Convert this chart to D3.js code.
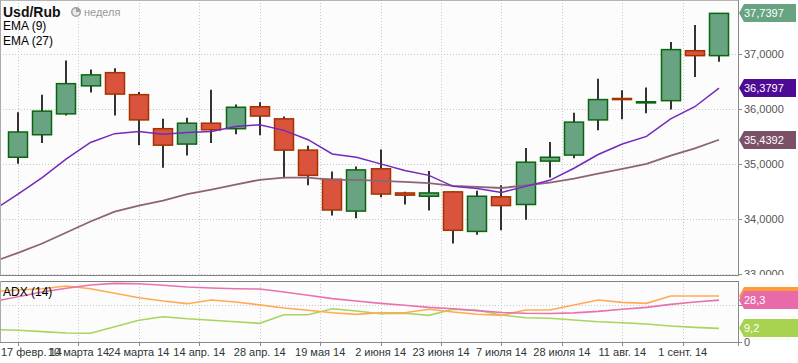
<!DOCTYPE html>
<html>
<head>
<meta charset="utf-8">
<script src="https://cdn.jsdelivr.net/npm/d3@7"></script>
<style>
body { margin: 0; background: #fff; }
svg { display: block; font-family: "Liberation Sans", Arial, sans-serif; }
</style>
</head>
<body>
<svg id="chart" width="798" height="363"></svg>
<script>
// weekly candles Usd/Rub, 17 Feb .. 8 Sep 2014
var weeks = ["17.02","24.02","03.03","10.03","17.03","24.03","31.03","07.04","14.04","21.04",
             "28.04","05.05","12.05","19.05","26.05","02.06","09.06","16.06","23.06","30.06",
             "07.07","14.07","21.07","28.07","04.08","11.08","18.08","25.08","01.09","08.09"];
var open  = [35.12,35.53,35.91,36.42,36.66,36.26,35.64,35.36,35.74,35.64,
             36.04,35.82,35.25,34.72,34.14,34.91,34.47,34.41,34.49,33.77,
             34.40,34.26,35.05,35.16,35.80,36.19,36.11,36.15,37.06,36.97];
var high  = [35.94,36.26,36.88,36.72,36.74,36.31,35.82,35.84,36.35,36.08,
             36.12,35.86,35.33,34.86,34.95,35.26,34.49,34.87,34.50,34.51,
             34.61,35.29,35.40,35.93,36.55,36.34,36.39,37.22,37.53,37.74];
var low   = [35.00,35.38,35.88,36.30,35.88,35.34,34.93,35.15,35.38,35.54,
             35.52,34.74,34.61,34.06,34.01,34.39,34.26,34.15,33.55,33.71,
             33.79,33.98,34.75,35.10,35.61,35.81,35.92,35.99,36.58,36.86];
var close = [35.58,35.96,36.46,36.62,36.27,35.80,35.34,35.74,35.62,36.03,
             35.87,35.25,34.79,34.16,34.89,34.45,34.43,34.47,33.79,34.41,
             34.24,35.03,35.12,35.76,36.17,36.17,36.13,37.08,36.97,37.7397];

// indicator lines, first value = the week before (runs off the left edge)
var ema9  = [34.16,34.45,34.75,35.09,35.39,35.55,35.59,35.54,35.57,35.59,35.68,
             35.71,35.61,35.44,35.18,35.12,35.00,34.88,34.79,34.59,34.55,
             34.48,34.59,34.70,34.92,35.17,35.36,35.50,35.82,36.04,36.3797];
var ema27 = [33.22,33.38,33.55,33.75,33.95,34.13,34.24,34.33,34.45,34.53,34.62,
             34.71,34.75,34.75,34.71,34.71,34.69,34.67,34.65,34.60,34.58,
             34.56,34.61,34.66,34.73,34.82,34.91,35.00,35.15,35.28,35.4392];
var adx     = [27.4,30.6,33.8,36.3,38.5,39.6,39.4,38.3,37.2,36.5,36.0,
               35.8,33.8,31.6,29.3,27.7,26.1,24.8,23.4,22.5,21.2,
               19.9,19.4,19.3,19.7,20.7,22.1,23.4,25.4,27.0,28.3];
var diPlus  = [34.3,35.1,36.0,37.8,36.0,32.9,29.9,27.7,25.9,28.4,27.0,
               25.1,23.0,21.4,19.8,18.7,19.8,19.8,22.1,20.3,18.7,
               18.0,21.6,21.6,25.0,28.4,26.8,26.1,31.1,31.1,31.1];
var diMinus = [8.4,7.9,7.0,6.1,5.9,10.3,14.7,17.1,15.7,14.7,13.7,
               12.6,18.4,18.4,22.5,20.9,19.1,19.4,18.0,22.1,21.4,
               18.2,16.4,16.0,14.9,13.7,13.0,12.2,10.8,9.9,9.2];

// date axis: one tick every 2.5 candles
var tickIdx = [0,2.5,5,7.5,10,12.5,15,17.5,20,22.5,25,27.5];
var tickLabels = ["17 февр. 14","10 марта 14","24 марта 14","14 апр. 14","28 апр. 14","19 мая 14",
                  "2 июня 14","23 июня 14","7 июля 14","28 июля 14","11 авг. 14","1 сент. 14"];
var priceTicks = [33,34,35,36,37];
var adxTicks = [0,25];

var svg = d3.select("#chart"),
    axisX = 738,
    mainTop = 0, mainBottom = 275,
    indTop = 281, indBottom = 342;

var x = d3.scaleLinear().domain([0, 29]).range([18, 719]),
    y = d3.scaleLinear().domain([33, 37]).range([273.7, 54]),
    yi = d3.scaleLinear().domain([0, 25]).range([342, 305]);

var fmt = function(v, d) { return v.toFixed(d).replace(".", ","); };
var px = function(v) { return Math.round(v) + 0.5; };

var defs = svg.append("defs");
defs.append("clipPath").attr("id", "clipMain")
    .append("rect").attr("x", 0).attr("y", mainTop).attr("width", axisX).attr("height", mainBottom - mainTop);
defs.append("clipPath").attr("id", "clipInd")
    .append("rect").attr("x", 0).attr("y", indTop).attr("width", axisX).attr("height", indBottom - indTop);
defs.append("clipPath").attr("id", "clipMainAxis")
    .append("rect").attr("x", axisX).attr("y", 0).attr("width", 60).attr("height", mainBottom);

// panel backgrounds
svg.append("rect").attr("x", 0).attr("y", mainTop).attr("width", axisX).attr("height", mainBottom - mainTop).attr("fill", "#fcfcfc");
svg.append("rect").attr("x", 0).attr("y", indTop).attr("width", axisX).attr("height", indBottom - indTop).attr("fill", "#fcfcfc");

// grid
var grid = svg.append("g")
    .attr("stroke", "#c9c9c9")
    .attr("stroke-dasharray", "1,2")
    .attr("fill", "none");

grid.selectAll("line.vm").data(tickIdx).enter().append("line")
    .attr("x1", (d) => px(x(d))).attr("x2", (d) => px(x(d)))
    .attr("y1", mainTop).attr("y2", mainBottom);
grid.selectAll("line.vi").data(tickIdx).enter().append("line")
    .attr("x1", (d) => px(x(d))).attr("x2", (d) => px(x(d)))
    .attr("y1", indTop).attr("y2", indBottom);
grid.selectAll("line.hm").data(priceTicks).enter().append("line")
    .attr("x1", 0).attr("x2", axisX)
    .attr("y1", (d) => px(y(d))).attr("y2", (d) => px(y(d)));
grid.selectAll("line.hi").data([25]).enter().append("line")
    .attr("x1", 0).attr("x2", axisX)
    .attr("y1", (d) => px(yi(d))).attr("y2", (d) => px(yi(d)));

// candles
var candles = d3.range(weeks.length).map((i) => ({
    i: i, o: open[i], h: high[i], l: low[i], c: close[i], up: close[i] >= open[i]
}));
var bodyW = 19;
var plot = svg.append("g").attr("clip-path", "url(#clipMain)");

plot.append("g")
    .selectAll("line")
    .data(candles)
    .enter()
    .append("line")
    .attr("x1", (d) => Math.round(x(d.i)))
    .attr("x2", (d) => Math.round(x(d.i)))
    .attr("y1", (d) => y(d.h))
    .attr("y2", (d) => y(d.l))
    .attr("stroke", "#000")
    .attr("stroke-width", 1.6);

plot.append("g")
    .selectAll("rect")
    .data(candles)
    .enter()
    .append("rect")
    .attr("x", (d) => Math.round(x(d.i)) - bodyW / 2)
    .attr("width", bodyW)
    .attr("y", (d) => y(Math.max(d.o, d.c)))
    .attr("height", (d) => Math.max(1, Math.abs(y(d.o) - y(d.c))))
    .attr("fill", (d) => d.up ? "#68a482" : "#d9533d")
    .attr("stroke", (d) => d.up ? "#0b650f" : "#a33300")
    .attr("stroke-width", 1.5);

// EMA lines
var line = d3.line().x((d, i) => x(i - 1));
plot.append("path")
    .attr("d", line.y((d) => y(d))(ema27))
    .attr("fill", "none").attr("stroke", "#8c6479").attr("stroke-width", 1.8);
plot.append("path")
    .attr("d", line.y((d) => y(d))(ema9))
    .attr("fill", "none").attr("stroke", "#7429b8").attr("stroke-width", 1.5);

// ADX panel
var ind = svg.append("g").attr("clip-path", "url(#clipInd)");
[[diMinus, "#a9d45e"], [diPlus, "#ffaa55"], [adx, "#e872ad"]].forEach(function(s) {
    ind.append("path")
        .attr("d", line.y((d) => yi(d))(s[0]))
        .attr("fill", "none").attr("stroke", s[1]).attr("stroke-width", 1.6);
});

// frames
var frame = svg.append("g").attr("fill", "none");
frame.append("line").attr("x1", 0).attr("x2", axisX).attr("y1", 0.5).attr("y2", 0.5).attr("stroke", "#b4b4b4");
frame.append("line").attr("x1", 0.5).attr("x2", 0.5).attr("y1", 0).attr("y2", mainBottom).attr("stroke", "#aaa");
frame.append("line").attr("x1", 0).attr("x2", axisX).attr("y1", mainBottom + 0.5).attr("y2", mainBottom + 0.5).attr("stroke", "#808080");
frame.append("line").attr("x1", 0).attr("x2", axisX).attr("y1", indTop + 0.5).attr("y2", indTop + 0.5).attr("stroke", "#808080");
frame.append("line").attr("x1", 0.5).attr("x2", 0.5).attr("y1", indTop).attr("y2", indBottom).attr("stroke", "#aaa");
frame.append("line").attr("x1", 0).attr("x2", axisX).attr("y1", indBottom + 0.5).attr("y2", indBottom + 0.5).attr("stroke", "#8a8a8a");
frame.append("line").attr("x1", axisX + 0.5).attr("x2", axisX + 0.5).attr("y1", 0).attr("y2", mainBottom + 1).attr("stroke", "#8a8a8a");
frame.append("line").attr("x1", axisX + 0.5).attr("x2", axisX + 0.5).attr("y1", indTop).attr("y2", indBottom + 4).attr("stroke", "#8a8a8a");

// right price axis
var ra = svg.append("g").attr("clip-path", "url(#clipMainAxis)");
ra.selectAll("line").data(priceTicks).enter().append("line")
    .attr("x1", axisX).attr("x2", axisX + 4)
    .attr("y1", (d) => px(y(d))).attr("y2", (d) => px(y(d)))
    .attr("stroke", "#8a8a8a");
ra.selectAll("text").data(priceTicks).enter().append("text")
    .attr("x", axisX + 6).attr("y", (d) => y(d) + 4)
    .attr("font-size", 11).attr("fill", "#555")
    .text((d) => fmt(d, 4));

var ia = svg.append("g");
ia.selectAll("line").data(adxTicks).enter().append("line")
    .attr("x1", axisX).attr("x2", axisX + 4)
    .attr("y1", (d) => px(yi(d))).attr("y2", (d) => px(yi(d)))
    .attr("stroke", "#8a8a8a");
ia.selectAll("text").data(adxTicks).enter().append("text")
    .attr("x", axisX + 6).attr("y", (d) => yi(d) + 4)
    .attr("font-size", 11).attr("fill", "#555")
    .text((d) => d);

// value tags on the right
var tag = function(v, scale, color, label, right) {
    var cy = Math.round(scale(v)), h = 9, x0 = axisX + 1;
    svg.append("path")
        .attr("d", `M${x0},${cy} L${x0 + 5},${cy - h} L${right},${cy - h} L${right},${cy + h} L${x0 + 5},${cy + h} Z`)
        .attr("fill", color);
    if (label) {
        svg.append("text")
            .attr("x", x0 + 5).attr("y", cy + 4)
            .attr("font-size", 11).attr("fill", "#fff")
            .text(label);
    }
};
tag(close[29], y, "#68a482", fmt(close[29], 4), 796);
tag(ema9[30], y, "#4d0a94", fmt(ema9[30], 4), 796);
tag(ema27[30], y, "#7b5168", fmt(ema27[30], 4), 796);
tag(diPlus[30], yi, "#ff9c3a", null, 798);   // hidden under the ADX tag
tag(adx[30], yi, "#e86aa8", fmt(adx[30], 1), 798);
tag(diMinus[30], yi, "#a8d350", fmt(diMinus[30], 1), 798);

// date axis
var xa = svg.append("g");
xa.selectAll("line").data(tickIdx).enter().append("line")
    .attr("x1", (d) => px(x(d))).attr("x2", (d) => px(x(d)))
    .attr("y1", indBottom).attr("y2", indBottom + 4)
    .attr("stroke", "#8a8a8a");
xa.selectAll("text").data(tickIdx).enter().append("text")
    .attr("x", (d, i) => i == 0 ? 1 : x(d))
    .attr("y", 356)
    .attr("text-anchor", (d, i) => i == 0 ? "start" : "middle")
    .attr("font-size", 11).attr("fill", "#333")
    .text((d, i) => tickLabels[i]);

// legend
var lg = svg.append("g");
lg.append("text").attr("x", 3).attr("y", 17).attr("font-size", 14).attr("font-weight", "bold").attr("fill", "#111").text("Usd/Rub");
lg.append("circle").attr("cx", 76).attr("cy", 12).attr("r", 5).attr("fill", "#a0a0a0");
lg.append("path").attr("d", "M76,12 L76,8.5 A3.5,3.5 0 1 0 79.5,12 Z").attr("fill", "#e8e8e8");
lg.append("text").attr("x", 84).attr("y", 16).attr("font-size", 11).attr("fill", "#999").text("неделя");
lg.append("text").attr("x", 3).attr("y", 30).attr("font-size", 12).attr("fill", "#000").text("EMA (9)");
lg.append("text").attr("x", 3).attr("y", 45).attr("font-size", 12).attr("fill", "#000").text("EMA (27)");
lg.append("text").attr("x", 3).attr("y", 296).attr("font-size", 12).attr("fill", "#000").text("ADX (14)");
</script>
</body>
</html>
